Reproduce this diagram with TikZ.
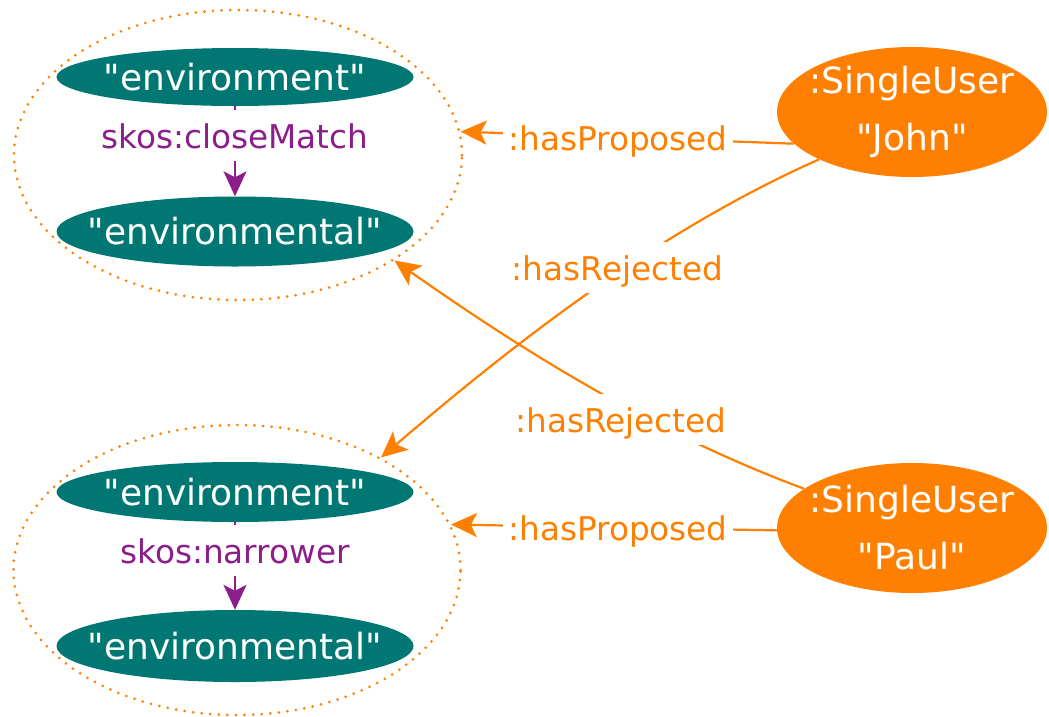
\documentclass[tikz,border=0pt]{standalone}
\usepackage{fontspec}
\setmainfont{DejaVu Sans}[Ligatures=TeXOff]
\usetikzlibrary{shapes.geometric,arrows.meta}
\definecolor{myteal}{RGB}{0,119,115}
\definecolor{myorange}{RGB}{255,128,0}
\definecolor{mypurple}{RGB}{140,30,140}
\begin{document}
\begin{tikzpicture}[x=1pt,y=-1pt,
 lit/.style={ellipse, fill=myteal, text=white, inner xsep=-40pt, inner ysep=-5pt, minimum width=357pt, font=\fontsize{36}{43}\selectfont},
 user/.style={ellipse, fill=myorange, text=white, inner xsep=-30pt, inner ysep=-5pt, minimum width=270pt, minimum height=130pt, align=center, font=\fontsize{36}{57}\selectfont},
 group/.style={ellipse, draw=myorange, line width=3pt, dash pattern=on 0pt off 8.6pt, line cap=round, inner sep=0pt},
 rel/.style={draw=myorange, line width=2.2pt, -{Stealth[length=26pt,width=24pt,inset=6pt]}},
 skosrel/.style={draw=mypurple, line width=2.2pt, -{Stealth[length=25pt,width=23pt,inset=6pt]}},
 lab/.style={fill=white, anchor=base, inner xsep=5pt, inner ysep=10pt, text height=28pt, text depth=3pt, font=\fontsize{32.7}{39}\selectfont},
]
\useasboundingbox (0,0) rectangle (1049,716);
% top group
\node[group, minimum width=448pt, minimum height=290pt] (g1) at (238,155) {};
\node[lit, minimum height=58pt] (a1) at (235,77) {"environment"};
\node[lit, minimum height=70pt] (a2) at (235,231.5) {"environmental"};
% bottom group
\node[group, minimum width=447pt, minimum height=290pt] (g2) at (237,570) {};
\node[lit, minimum height=60pt] (b1) at (235,492) {"environment"};
\node[lit, minimum height=72pt] (b2) at (235,646) {"environmental"};
% users
\node[user] (john) at (912,112) {:SingleUser\\"John"};
\node[user] (paul) at (912,528) {:SingleUser\\"Paul"};
% skos relations
\draw[skosrel] (a1) -- (a2);
\node[lab, text=mypurple] (l1) at (235,148) {skos:closeMatch};
\draw[skosrel] (b1) -- (b2);
\node[lab, text=mypurple] (l2) at (235,563) {skos:narrower};
% user relations
\draw[rel] (john.195) -- (g1.6);
\node[lab, text=myorange] (l3) at (618,150) {:hasProposed};
\draw[rel] (john.207) .. controls (668,226.5) and (530,329.5) .. (g2.38);
\node[lab, text=myorange] (l4) at (617.5,280) {:hasRejected};
\draw[rel] (paul.160) .. controls (662,436) and (533,358) .. (g1.-34);
\node[lab, text=myorange] (l5) at (621,432) {:hasRejected};
\draw[rel] (paul.181) -- (g2.12);
\node[lab, text=myorange] (l6) at (618,540) {:hasProposed};
\end{tikzpicture}
\end{document}
